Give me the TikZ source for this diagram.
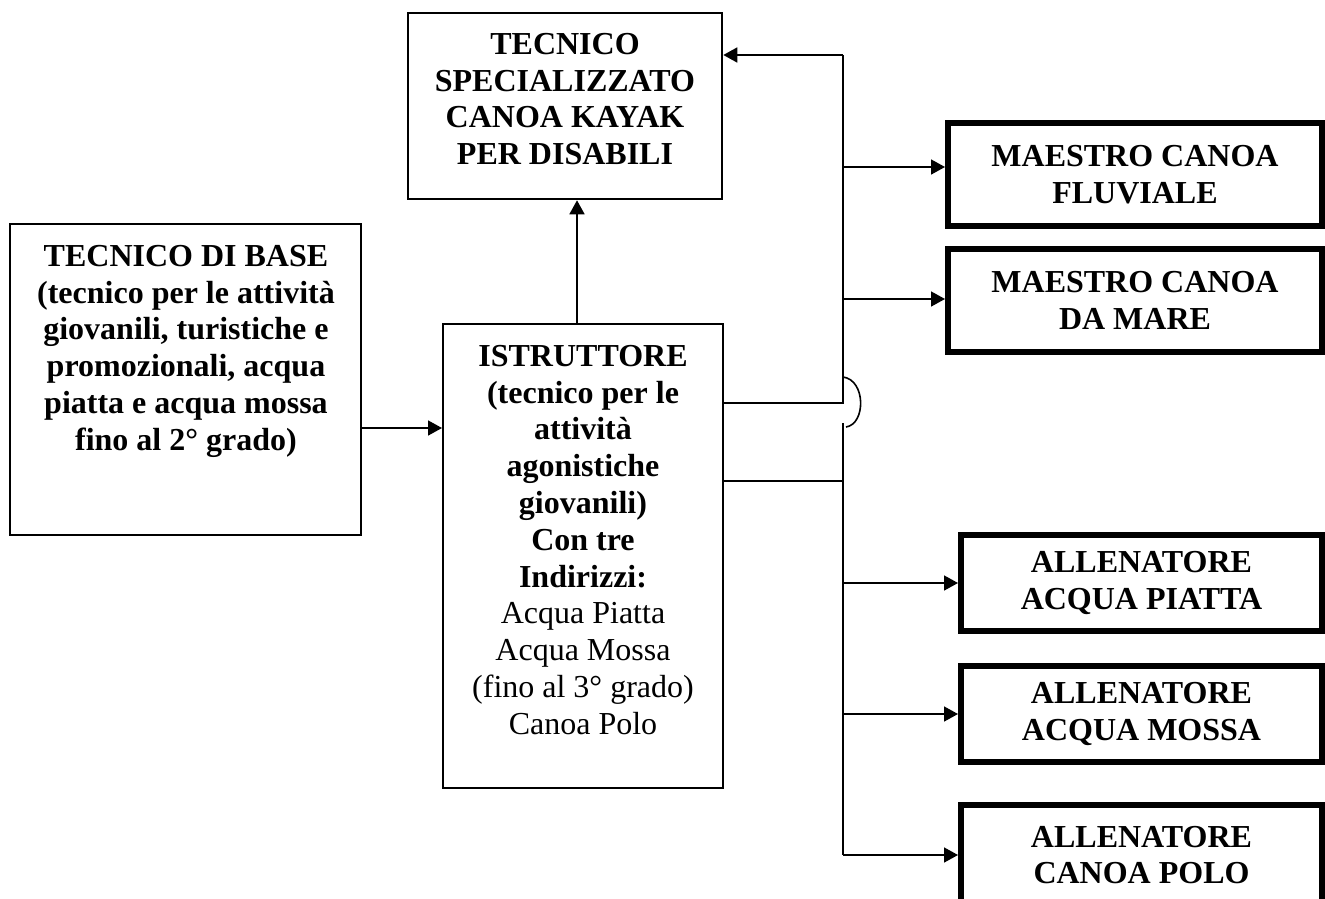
\documentclass[tikz,border=0pt]{standalone}
\usepackage{fontspec}
\setmainfont{Liberation Serif}
\usetikzlibrary{arrows.meta}
\begin{document}
\begin{tikzpicture}[x=1pt,y=1pt,
  conn/.style={line width=1.6pt},
  arr/.style={conn,-{Triangle[length=14pt,width=15pt]}},
  thinbox/.style={draw,line width=1.7pt,anchor=north west,inner sep=0pt},
  thickbox/.style={draw,line width=6pt,anchor=north west,align=center,inner sep=0pt,
    font=\fontsize{32}{36.8}\selectfont\bfseries},
  txt/.style={align=center,inner sep=0pt,anchor=north,font=\fontsize{32}{36.8}\selectfont},
  txtb/.style={txt,font=\fontsize{32}{36.8}\selectfont\bfseries}]
\useasboundingbox (0,0) rectangle (1325,-899);

% boxes
\node[thinbox,line width=2.3pt,minimum width=314pt,minimum height=186pt] (S) at (407,-12) {};
\node[txtb] (St) at (565,-33) {TECNICO\\SPECIALIZZATO\\CANOA KAYAK\\PER DISABILI};

\node[thinbox,minimum width=351pt,minimum height=311pt] (B) at (9,-223) {};
\node[txtb] (Bt) at (186,-245) {TECNICO DI BASE\\(tecnico per le attività\\giovanili, turistiche e\\promozionali, acqua\\piatta e acqua mossa\\fino al 2° grado)};

\node[thinbox,minimum width=280pt,minimum height=464pt] (I) at (442,-323) {};
\node[txt] (It) at (583,-345) {\textbf{ISTRUTTORE}\\\textbf{(tecnico per le}\\\textbf{attività}\\\textbf{agonistiche}\\\textbf{giovanili)}\\\textbf{Con tre}\\\textbf{Indirizzi:}\\Acqua Piatta\\Acqua Mossa\\(fino al 3° grado)\\Canoa Polo};

\node[thickbox,minimum width=374pt,minimum height=103pt] (MF) at (945,-120) {MAESTRO CANOA\\FLUVIALE};
\node[thickbox,minimum width=374pt,minimum height=103pt] (MM) at (945,-246) {MAESTRO CANOA\\DA MARE};
\node[thickbox,minimum width=361pt,minimum height=96pt] (AP) at (958,-532) {ALLENATORE\\ACQUA PIATTA};
\node[thickbox,minimum width=361pt,minimum height=96pt] (AM) at (958,-663) {ALLENATORE\\ACQUA MOSSA};
\node[thickbox,minimum width=361pt,minimum height=100pt] (AC) at (958,-802) {ALLENATORE\\CANOA POLO};

% connectors
\coordinate (c1) at (361,-428);
\draw[arr] (c1 -| B.east) -- (c1 -| I.west);

\coordinate (v) at (577,0);
\draw[arr] (I.north -| v) -- (S.south -| v);

\coordinate (t) at (843,-55);
\coordinate (j1) at (843,-403);
\draw[arr] (t) -- (t -| S.east);
\draw[conn] (t) -- (j1) -- (j1 -| I.east);

\coordinate (b1) at (843,-377);
\coordinate (b2) at (846,-427);
\draw[conn] (b1) .. controls (866,-380) and (866,-424) .. (b2);

\coordinate (j2) at (843,-423);
\coordinate (j3) at (843,-481);
\coordinate (bot) at (843,-855);
\draw[conn] (j2) -- (bot);
\draw[conn] (j3 -| I.east) -- (j3);

\coordinate (m1) at (843,-167);
\coordinate (m2) at (843,-299);
\coordinate (a1) at (843,-583);
\coordinate (a2) at (843,-714);
\draw[arr] (m1) -- (m1 -| MF.west);
\draw[arr] (m2) -- (m2 -| MM.west);
\draw[arr] (a1) -- (a1 -| AP.west);
\draw[arr] (a2) -- (a2 -| AM.west);
\draw[arr] (bot) -- (bot -| AC.west);
\end{tikzpicture}
\end{document}
